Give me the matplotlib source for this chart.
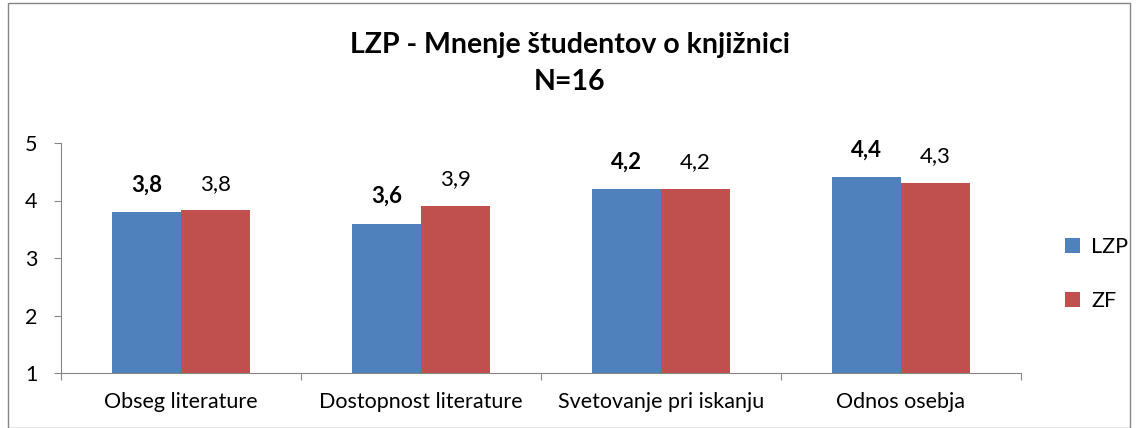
import matplotlib.pyplot as plt
import numpy as np
from matplotlib.patches import Rectangle

categories = ['Obseg literature', 'Dostopnost literature', 'Svetovanje pri iskanju', 'Odnos osebja']
lzp = [3.8, 3.6, 4.2, 4.4]
zf = [3.83, 3.9, 4.2, 4.3]
lzp_labels = ['3,8', '3,6', '4,2', '4,4']
zf_labels = ['3,8', '3,9', '4,2', '4,3']

plt.rcParams['font.family'] = ['Lato', 'DejaVu Sans']

fig = plt.figure(figsize=(11.37, 4.28), dpi=100)
ax = fig.add_axes([61 / 1137, 1 - 373 / 428, 960 / 1137, 230 / 428])

x = np.arange(len(categories))
w = 0.2875
ax.bar(x - w / 2, lzp, w, bottom=0, color='#4F81BD', label='LZP')
ax.bar(x + w / 2, zf, w, bottom=0, color='#C0504D', label='ZF')

for i in range(len(categories)):
    ax.annotate(lzp_labels[i], (x[i] - w / 2, lzp[i]), xytext=(0, 12), textcoords='offset points',
                ha='center', va='bottom', fontsize=16, fontweight='bold')
    ax.annotate(zf_labels[i], (x[i] + w / 2, zf[i]), xytext=(0, 12), textcoords='offset points',
                ha='center', va='bottom', fontsize=16)

ax.set_xlim(-0.5, len(categories) - 0.5)
ax.set_ylim(1, 5)
ax.set_yticks([1, 2, 3, 4, 5])
ax.set_xticks(np.arange(-0.5, len(categories), 1.0))
ax.set_xticklabels([])
ax.set_xticks(x, minor=True)
ax.set_xticklabels(categories, minor=True, fontsize=15.5)
ax.tick_params(axis='x', which='minor', length=0, pad=14)
ax.tick_params(axis='x', which='major', length=5, color='#868686')
ax.tick_params(axis='y', length=5, color='#868686', labelsize=15.5, pad=12)
for s in ['top', 'right']:
    ax.spines[s].set_visible(False)
for s in ['left', 'bottom']:
    ax.spines[s].set_color('#868686')

fig.text(0.501, 1 - 45 / 428, 'LZP - Mnenje študentov o knjižnici', ha='center', va='center',
         fontsize=20.5, fontweight='bold')
fig.text(0.501, 1 - 82 / 428, 'N=16', ha='center', va='center', fontsize=20.5, fontweight='bold')

fig.legend(loc='upper left', bbox_to_anchor=(1046 / 1137, 1 - 218 / 428), frameon=False,
           fontsize=15.5, handlelength=0.7, handleheight=0.7, labelspacing=1.55, handletextpad=0.5)

fig.patches.append(Rectangle((8 / 1137, 0), 1122 / 1137, 1 - 3 / 428, transform=fig.transFigure,
                             fill=False, edgecolor='#868686', linewidth=1))

fig.savefig('out.png', dpi=100)
